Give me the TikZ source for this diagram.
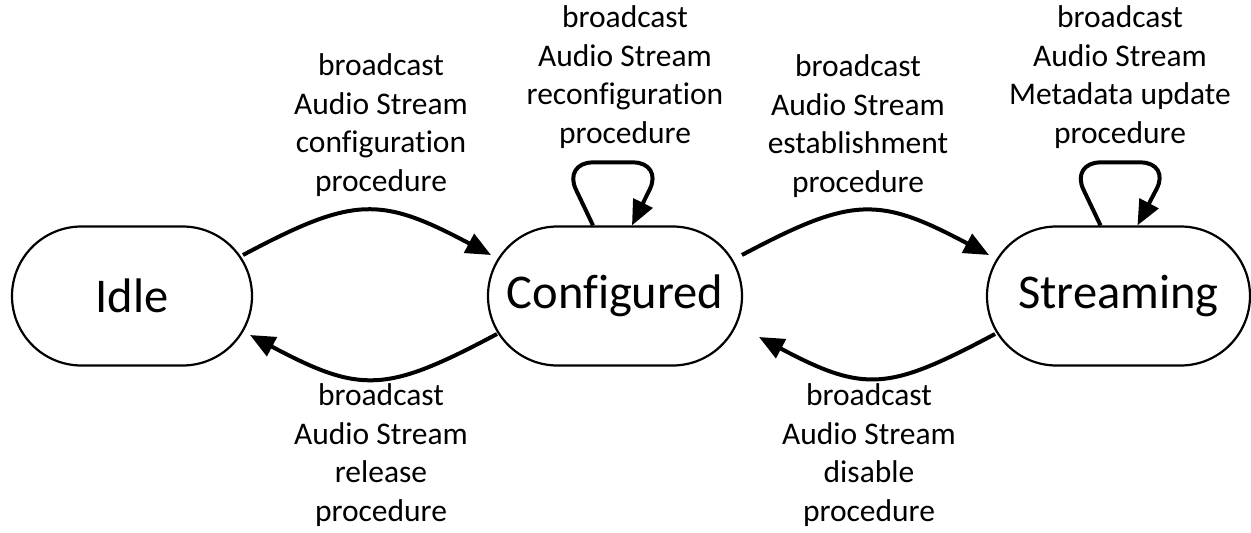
\documentclass[tikz,border=0pt]{standalone}
\usepackage{fontspec}
\setmainfont{Carlito}[Ligatures=NoCommon]
\usetikzlibrary{arrows.meta}
\begin{document}
\begin{tikzpicture}[x=1pt,y=-1pt,
  state/.style={draw, line width=2.2pt, rounded corners=69.5pt, minimum height=139pt, inner sep=0pt, font=\fontsize{48.5}{56}\selectfont},
  lbl/.style={align=center, font=\fontsize{31.5}{38.5}\selectfont, inner sep=0pt},
  trans/.style={line width=4pt, -{Triangle[length=25pt,width=21pt]}},
  loopy/.style={trans, rounded corners=30pt}]
\useasboundingbox (0,0) rectangle (1251,533);
\node[state, minimum width=240pt] (idle) at (132,296) {Idle};
\node[state, minimum width=254pt] (conf) at (615,296) {Configured};
\node[state, minimum width=263pt] (strm) at (1118.5,296) {Streaming};
\coordinate (i1) at (243,255);
\coordinate (c1) at (491,255);
\coordinate (c2) at (497,334);
\coordinate (i2) at (250,335);
\coordinate (c3) at (742,255);
\coordinate (s1) at (989,255);
\coordinate (s2) at (995,334);
\coordinate (c4) at (759,337);
\draw[trans] (i1) to[out=28,in=152,looseness=1.3] (c1);
\draw[trans] (c2) to[out=208,in=-28,looseness=1.3] (i2);
\draw[trans] (c3) to[out=28,in=152,looseness=1.3] (s1);
\draw[trans] (s2) to[out=208,in=-28,looseness=1.3] (c4);
\draw[loopy] ([xshift=-22pt]conf.north) -- ++(-30,-63) -- ++(100,0) -- ([xshift=17pt]conf.north);
\draw[loopy] ([xshift=-18pt]strm.north) -- ++(-30,-63) -- ++(100,0) -- ([xshift=19pt]strm.north);
\node[lbl] (l1) at (381,125) {broadcast\\Audio Stream\\configuration\\procedure};
\node[lbl] (l2) at (625,77) {broadcast\\Audio Stream\\reconfiguration\\procedure};
\node[lbl] (l3) at (858,126) {broadcast\\Audio Stream\\establishment\\procedure};
\node[lbl] (l4) at (1120,77) {broadcast\\Audio Stream\\Metadata update\\procedure};
\node[lbl] (l5) at (381,455) {broadcast\\Audio Stream\\release\\procedure};
\node[lbl] (l6) at (869,455) {broadcast\\Audio Stream\\disable\\procedure};
\end{tikzpicture}
\end{document}
